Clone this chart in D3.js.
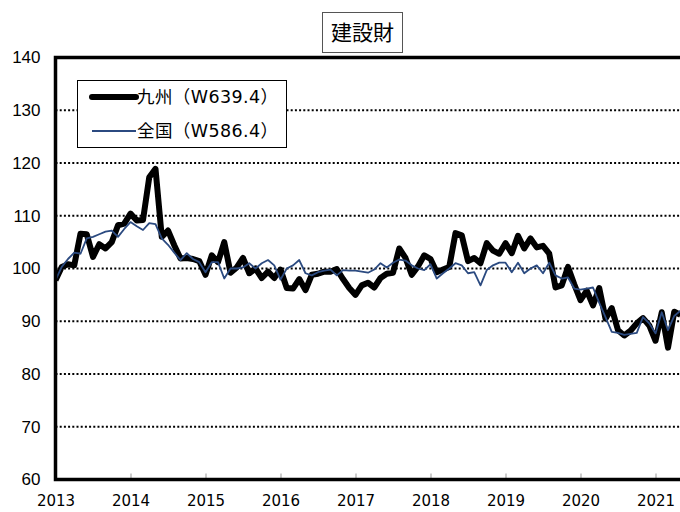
<!DOCTYPE html>
<html><head><meta charset="utf-8">
<script src="https://cdn.jsdelivr.net/npm/d3@7/dist/d3.min.js"></script>
<style>body{margin:0;background:#fff}svg{display:block}</style>
</head><body>
<svg id="c" width="680" height="512"></svg>
<script>
const title = "建設財";
const years = ["2013","2014","2015","2016","2017","2018","2019","2020","2021"];
const yTicks = [60,70,80,90,100,110,120,130,140];
const seriesNames = ["九州（W639.4）","全国（W586.4）"];
// monthly, Jan 2013 – May 2021
const kyushu = [
 97.8,100.3,100.8,100.6,106.6,106.5,102.2,104.6,103.8,105.0,108.2,108.5,
 110.4,109.1,109.2,117.3,118.9,106.0,107.2,104.4,101.9,102.0,101.8,101.4,
 98.8,102.5,101.2,105.0,99.2,100.2,102.0,99.1,100.0,98.2,99.4,98.2,
 99.8,96.3,96.2,98.0,95.9,98.8,99.0,99.4,99.4,99.9,98.0,96.3,
 95.0,96.8,97.3,96.4,98.2,99.0,99.2,103.8,102.0,98.8,100.4,102.5,
 101.8,99.3,99.8,100.3,106.7,106.3,101.4,102.0,101.0,104.8,103.4,102.8,
 104.8,102.9,106.2,103.8,105.7,104.0,104.3,102.8,96.4,96.8,100.3,97.0,
 94.0,95.8,93.0,96.3,90.5,92.5,88.3,87.3,88.2,89.6,90.6,89.2,
 86.3,91.7,85.0,91.8,91.2
];
const zenkoku = [
 97.8,100.3,101.8,103.0,102.8,105.7,106.0,106.5,107.0,107.2,106.0,107.5,
 108.8,108.0,107.3,108.6,108.4,105.7,104.5,103.0,101.6,102.9,101.8,101.2,
 99.3,101.2,101.2,98.1,100.0,100.0,100.2,101.0,100.0,101.0,101.6,100.6,
 97.9,100.0,100.6,101.6,99.1,98.7,99.3,99.6,99.8,98.7,99.7,99.6,
 99.6,99.4,99.2,99.8,101.0,100.2,101.1,101.7,101.5,100.6,100.0,99.7,
 100.8,98.1,99.1,100.0,101.0,100.6,99.1,99.3,96.8,99.7,100.6,101.1,
 101.1,99.3,101.1,99.1,100.0,100.6,99.1,101.1,98.7,98.1,98.3,96.2,
 96.0,96.2,96.4,93.5,90.8,88.0,87.8,87.4,87.6,87.8,90.8,89.6,
 87.7,91.7,88.3,91.0,92.0
];

const svg = d3.select("#c");
const L = 55.5, R = 680, T = 57.5, B = 479.5;
const x = d3.scaleLinear().domain([0, 96]).range([L, 655.5]);
const y = d3.scaleLinear().domain([60, 140]).range([B, T]);

// gridlines
svg.append("g").selectAll("line").data(yTicks.filter(v => v > 60 && v < 140)).join("line")
  .attr("x1", L).attr("x2", R).attr("y1", d => y(d)).attr("y2", d => y(d))
  .attr("stroke", "#000").attr("stroke-width", 2).attr("stroke-dasharray", "2,2.2");

// x axis ticks (inside)
const xAxis = d3.axisBottom(x).tickValues(years.map((d, i) => i * 12))
  .tickFormat((d, i) => years[i]).tickSizeInner(-6).tickSizeOuter(0).tickPadding(16);
const gx = svg.append("g").attr("transform", `translate(0,${B})`).call(xAxis);
gx.select(".domain").remove();
gx.selectAll(".tick line").attr("stroke", "#999").attr("stroke-width", 1);
gx.selectAll("text").attr("font-family", "DejaVu Sans").attr("font-size", 15).attr("fill", "#000");

const yAxis = d3.axisLeft(y).tickValues(yTicks).tickSize(0).tickPadding(15);
const gy = svg.append("g").attr("transform", `translate(${L},0)`).call(yAxis);
gy.select(".domain").remove();
gy.selectAll("text").attr("font-family", "Liberation Sans, Arial").attr("font-size", 17).attr("fill", "#000");

// clip
svg.append("clipPath").attr("id", "clip").append("rect")
  .attr("x", L).attr("y", T - 10).attr("width", R - L + 10).attr("height", B - T + 10);

const line = d3.line().x((d, i) => x(i)).y(d => y(d));
const plot = svg.append("g").attr("clip-path", "url(#clip)");
plot.append("path").datum(kyushu).attr("d", line).attr("fill", "none")
  .attr("stroke", "#000").attr("stroke-width", 6).attr("stroke-linejoin", "round");
plot.append("path").datum(zenkoku).attr("d", line).attr("fill", "none")
  .attr("stroke", "#2B4A80").attr("stroke-width", 1.8).attr("stroke-linejoin", "round");

// frame
svg.append("path").attr("d", `M${R + 2},${T}H${L}V${B}H${R + 2}`)
  .attr("fill", "none").attr("stroke", "#000").attr("stroke-width", 3.5);

// legend
const lg = svg.append("g");
lg.append("rect").attr("x", 77.5).attr("y", 80.5).attr("width", 209).attr("height", 67)
  .attr("fill", "#fff").attr("stroke", "#000").attr("stroke-width", 1);
const rows = [{y: 97, w: 6, c: "#000"}, {y: 131, w: 1.8, c: "#2B4A80"}];
rows.forEach((r, i) => {
  lg.append("line").attr("x1", 92).attr("x2", 136).attr("y1", r.y).attr("y2", r.y)
    .attr("stroke", r.c).attr("stroke-width", r.w).attr("stroke-linecap", i === 0 ? "round" : "butt");
  lg.append("text").attr("x", 137).attr("y", r.y + 6).text(seriesNames[i])
    .attr("font-family", "DejaVu Sans, Noto Sans CJK JP").attr("font-size", 17.5)
    .attr("letter-spacing", 0.4).attr("fill", "#000");
});

// title
const tg = svg.append("g");
tg.append("rect").attr("x", 322.5).attr("y", 12.5).attr("width", 80).attr("height", 40)
  .attr("fill", "#fff").attr("stroke", "#555").attr("stroke-width", 1);
tg.append("text").attr("x", 362.5).attr("y", 40).attr("text-anchor", "middle").text(title)
  .attr("font-family", "Noto Sans CJK JP").attr("font-size", 21).attr("fill", "#000");
</script>
</body></html>
